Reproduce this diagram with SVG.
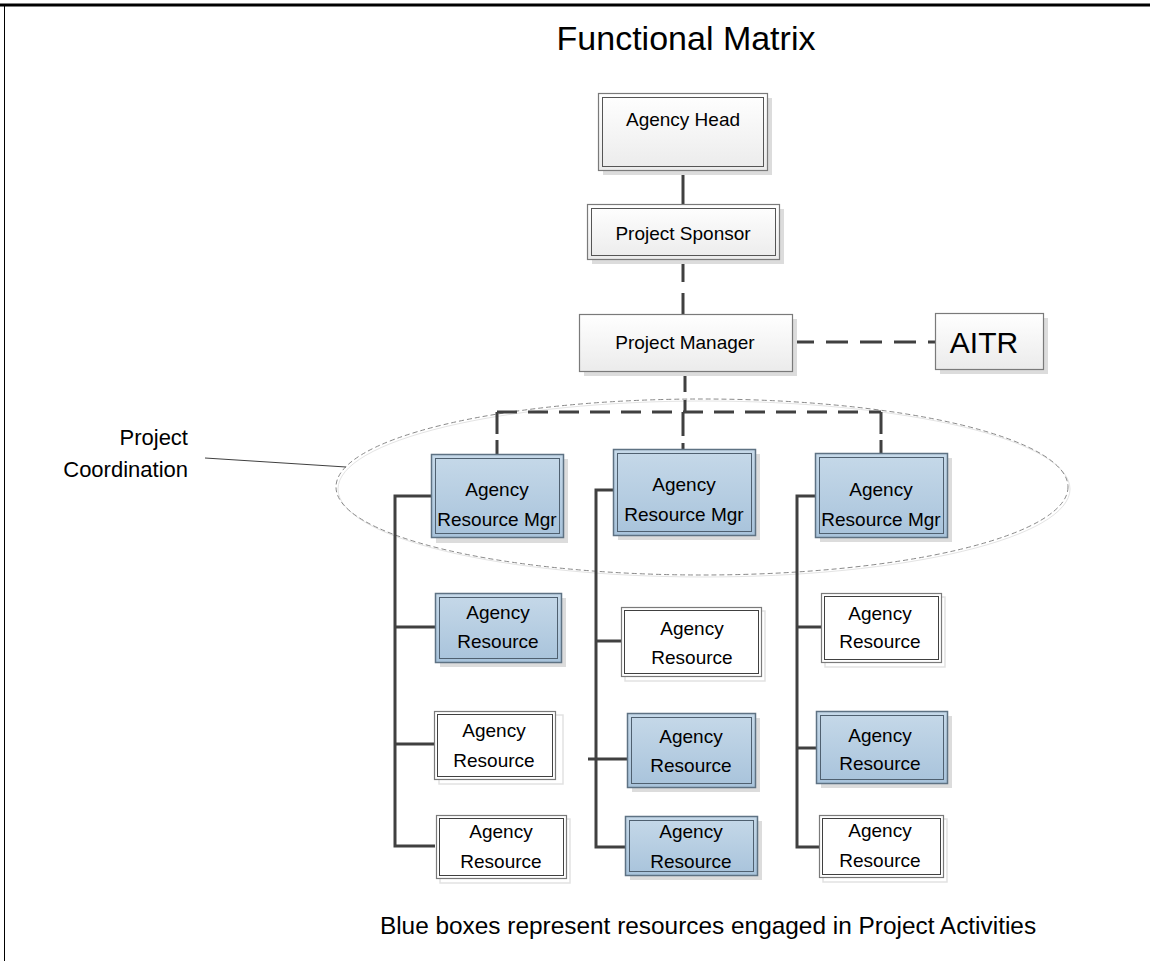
<svg xmlns="http://www.w3.org/2000/svg" width="1150" height="961" viewBox="0 0 1150 961">
<defs>
<linearGradient id="gBlue" x1="0" y1="0" x2="0" y2="1"><stop offset="0" stop-color="#c6d9e9"/><stop offset="1" stop-color="#a8c3db"/></linearGradient>
<linearGradient id="gGray" x1="0" y1="0" x2="0" y2="1"><stop offset="0" stop-color="#ffffff"/><stop offset="1" stop-color="#ebebeb"/></linearGradient>
</defs>
<style>
text{font-family:"Liberation Sans",Arial,sans-serif;fill:#000;text-anchor:middle}
.t{font-size:19px}
.sh{fill:#dcdcdc}
.shw{fill:none;stroke:#e2e2e2;stroke-width:1.5}
.bo{fill:url(#gBlue);stroke:#5e7283;stroke-width:1.5}
.bi{fill:none;stroke:#4f6070;stroke-width:1}
.wo{fill:#fff;stroke:#7a7a7a;stroke-width:1.2}
.wi{fill:none;stroke:#404040;stroke-width:1}
.go{fill:url(#gGray);stroke:#7a7a7a;stroke-width:1.2}
.gi{fill:none;stroke:#555;stroke-width:1}
.c{fill:none;stroke:#404040;stroke-width:3}
.d{fill:none;stroke:#404040;stroke-width:3;stroke-dasharray:20 11}
</style>
<rect width="1150" height="961" fill="#fff"/>
<line x1="0" y1="5" x2="1150" y2="5" stroke="#000" stroke-width="3"/>
<line x1="4.5" y1="5" x2="4.5" y2="961" stroke="#000" stroke-width="1"/>
<text x="686" y="50" style="font-size:34px">Functional Matrix</text>

<g id="coordination">
<ellipse cx="702" cy="487" rx="366" ry="88" fill="none" stroke="#e4e4e4" stroke-width="1" transform="translate(2,2)"/>
<ellipse cx="702" cy="487" rx="366" ry="88" fill="none" stroke="#8a8a8a" stroke-width="1" stroke-dasharray="5 3"/>
<line x1="205" y1="458" x2="346" y2="467" stroke="#404040" stroke-width="1"/>
<text x="188" y="445" style="font-size:22px;text-anchor:end">Project</text>
<text x="188" y="477" style="font-size:22px;text-anchor:end">Coordination</text>
</g>

<g id="connectors">
<line class="c" x1="683" y1="170" x2="683" y2="204"/>
<line class="c" x1="683" y1="259" x2="683" y2="314" style="stroke-dasharray:23 11"/>
<line class="c" x1="685" y1="371" x2="685" y2="412" style="stroke-dasharray:21 8"/>
<line class="d" x1="792" y1="342" x2="935" y2="342" style="stroke-dasharray:22 12"/>
<line class="d" x1="497" y1="412" x2="881" y2="412" style="stroke-dasharray:20 11"/>
<line class="c" x1="497" y1="412" x2="497" y2="454" style="stroke-dasharray:22 6"/>
<line class="c" x1="683" y1="412" x2="683" y2="449" style="stroke-dasharray:24 7"/>
<line class="c" x1="881" y1="412" x2="881" y2="453" style="stroke-dasharray:22 6"/>
<polyline class="c" points="431,496 395,496 395,846 435,846"/>
<line class="c" x1="395" y1="627" x2="435" y2="627"/>
<line class="c" x1="395" y1="744" x2="434" y2="744"/>
<polyline class="c" points="613,490 596,490 596,847 626,847"/>
<line class="c" x1="596" y1="641" x2="621" y2="641"/>
<line class="c" x1="588" y1="759" x2="627" y2="759"/>
<polyline class="c" points="815,496 797,496 797,847 819,847"/>
<line class="c" x1="797" y1="627" x2="821" y2="627"/>
<line class="c" x1="797" y1="748" x2="816" y2="748"/>
</g>

<g id="agency-head">
<rect class="sh" x="603" y="98" width="169" height="77"/>
<rect class="go" x="598.5" y="93.5" width="169" height="77"/>
<rect class="gi" x="602.5" y="97.5" width="161" height="69"/>
<text class="t" x="683" y="126">Agency Head</text>
</g>
<g id="project-sponsor">
<rect class="sh" x="592" y="209" width="192" height="55"/>
<rect class="go" x="587.5" y="204.5" width="192" height="55"/>
<rect class="gi" x="591.5" y="208.5" width="184" height="47"/>
<text class="t" x="683" y="240">Project Sponsor</text>
</g>
<g id="project-manager">
<rect class="sh" x="584" y="319" width="213" height="57"/>
<rect class="go" x="579.5" y="314.5" width="213" height="57"/>
<text class="t" x="685" y="349">Project Manager</text>
</g>
<g id="aitr">
<rect class="sh" x="940" y="318" width="108" height="56"/>
<rect class="go" x="935.5" y="313.5" width="108" height="56"/>
<text x="984" y="353" style="font-size:30px">AITR</text>
</g>

<g id="mgr1">
<rect class="sh" x="436" y="459" width="132" height="84"/>
<rect class="bo" x="431.5" y="454.5" width="132" height="83"/>
<rect class="bi" x="435.5" y="458.5" width="124" height="75"/>
<text class="t" x="497" y="496">Agency</text>
<text class="t" x="497" y="526">Resource Mgr</text>
</g>
<g id="mgr2">
<rect class="sh" x="618" y="454" width="142" height="86"/>
<rect class="bo" x="613.5" y="449.5" width="142" height="86"/>
<rect class="bi" x="617.5" y="453.5" width="134" height="78"/>
<text class="t" x="684" y="491">Agency</text>
<text class="t" x="684" y="521">Resource Mgr</text>
</g>
<g id="mgr3">
<rect class="sh" x="820" y="458" width="132" height="84"/>
<rect class="bo" x="815.5" y="453.5" width="132" height="84"/>
<rect class="bi" x="819.5" y="457.5" width="124" height="76"/>
<text class="t" x="881" y="496">Agency</text>
<text class="t" x="881" y="526">Resource Mgr</text>
</g>

<g id="res-1-1">
<rect class="sh" x="440" y="598" width="126" height="69"/>
<rect class="bo" x="435.5" y="593.5" width="126" height="69"/>
<rect class="bi" x="439.5" y="597.5" width="118" height="61"/>
<text class="t" x="498" y="619">Agency</text>
<text class="t" x="498" y="648">Resource</text>
</g>
<g id="res-1-2">
<rect class="shw" x="439" y="715" width="124" height="69"/>
<rect class="wo" x="434.5" y="711.5" width="121" height="68"/>
<rect class="wi" x="437.5" y="714.5" width="115" height="62"/>
<text class="t" x="494" y="737">Agency</text>
<text class="t" x="494" y="767">Resource</text>
</g>
<g id="res-1-3">
<rect class="shw" x="440" y="819" width="130" height="64"/>
<rect class="wo" x="436.5" y="815.5" width="130" height="63"/>
<rect class="wi" x="439.5" y="818.5" width="124" height="57"/>
<text class="t" x="501" y="838">Agency</text>
<text class="t" x="501" y="868">Resource</text>
</g>

<g id="res-2-1">
<rect class="shw" x="625" y="611" width="140" height="70"/>
<rect class="wo" x="621.5" y="607.5" width="140" height="69"/>
<rect class="wi" x="624.5" y="610.5" width="134" height="63"/>
<text class="t" x="692" y="635">Agency</text>
<text class="t" x="692" y="664">Resource</text>
</g>
<g id="res-2-2">
<rect class="sh" x="632" y="718" width="128" height="74"/>
<rect class="bo" x="627.5" y="713.5" width="128" height="74"/>
<rect class="bi" x="631.5" y="717.5" width="120" height="66"/>
<text class="t" x="691" y="743">Agency</text>
<text class="t" x="691" y="772">Resource</text>
</g>
<g id="res-2-3">
<rect class="sh" x="630" y="821" width="132" height="59"/>
<rect class="bo" x="625.5" y="816.5" width="132" height="59"/>
<rect class="bi" x="629.5" y="820.5" width="124" height="51"/>
<text class="t" x="691" y="838">Agency</text>
<text class="t" x="691" y="868">Resource</text>
</g>

<g id="res-3-1">
<rect class="shw" x="825" y="597" width="120" height="70"/>
<rect class="wo" x="821.5" y="593.5" width="120" height="69"/>
<rect class="wi" x="824.5" y="596.5" width="114" height="63"/>
<text class="t" x="880" y="620">Agency</text>
<text class="t" x="880" y="648">Resource</text>
</g>
<g id="res-3-2">
<rect class="sh" x="821" y="716" width="131" height="72"/>
<rect class="bo" x="816.5" y="711.5" width="131" height="72"/>
<rect class="bi" x="820.5" y="715.5" width="123" height="64"/>
<text class="t" x="880" y="742">Agency</text>
<text class="t" x="880" y="770">Resource</text>
</g>
<g id="res-3-3">
<rect class="shw" x="823" y="819" width="124" height="63"/>
<rect class="wo" x="819.5" y="815.5" width="124" height="62"/>
<rect class="wi" x="822.5" y="818.5" width="118" height="56"/>
<text class="t" x="880" y="837">Agency</text>
<text class="t" x="880" y="867">Resource</text>
</g>

<text x="708" y="934" style="font-size:24.4px">Blue boxes represent resources engaged in Project Activities</text>
</svg>
